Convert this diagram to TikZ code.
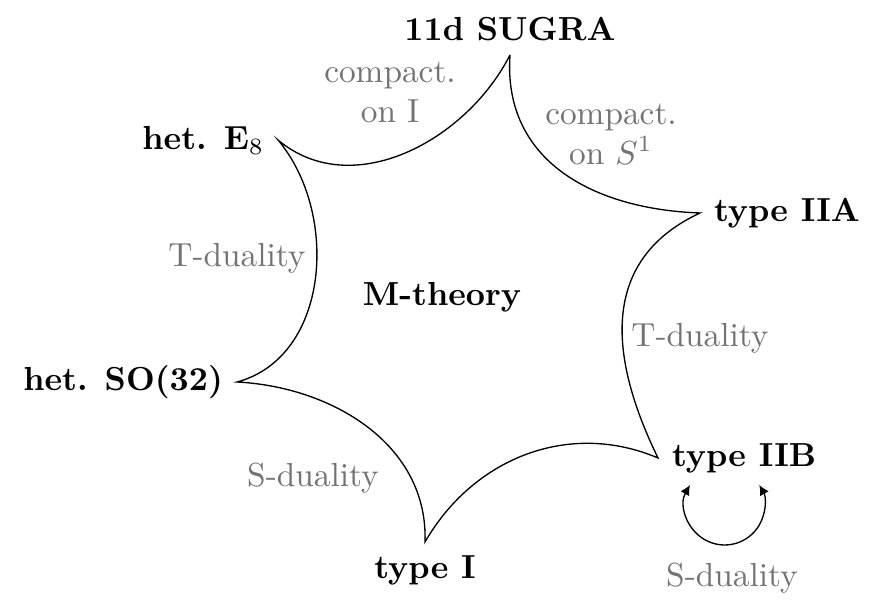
\documentclass[tikz,border=0pt]{standalone}
\usepackage{amsmath,amssymb}
\usetikzlibrary{positioning,calc,arrows.meta}
\tikzset{theory/.style={font=\bfseries,inner sep=4pt}  }
\tikzset{duality/.style={text=black!55,align=center}  }
\tikzset{>={Latex[length=3pt,width=3pt]}}

\begin{document}
\begin{tikzpicture}[x=0.3pt,y=0.3pt]
	\useasboundingbox (0,0) rectangle (877,604);
		\node[theory,anchor=south] (sugra) at (510,549) {11d SUGRA};
			\node[theory,anchor=west] (IIA) at (700,391) {type IIA};
			\node[theory,anchor=west] (IIB) at (658,146) {type IIB};
			\node[theory,anchor=north] (I) at (425,62) {type I};
			\node[theory,anchor=east] (so) at (237,222) {het. SO(32)};
			\node[theory,anchor=east] (e8) at (278,464) {het. E$_8$};
			\node[theory] (M) at (442,307) {M-theory};

			\draw[-]
				  (sugra.south) to[out=-94,in=178,looseness=1.1] (IIA.west)
				  to[out=205,in=116,looseness=1.15] (IIB.west)
				  to[out=157,in=60] (I.north)
				  to[out=88,in=-3] (so.east)
				  to[out=15,in=-50] (e8.east)
				  to[out=-40,in=-117] (sugra.south)
				;
				\node[duality] (cI) at (390,512) {compact.\\ on I};
				\node[duality] (cS) at (611,470) {compact.\\ on $S^1$};
				\node[duality] (tl) at (237,346) {T-duality};
				\node[duality] (tr) at (700,266) {T-duality};
				\node[duality] (sl) at (313,126) {S-duality};
				\node[duality] (sb) at (732,26) {S-duality};

				\coordinate (lp) at (690,119);
				\draw[<->] (lp) arc[start angle=150,end angle=390,radius=40];
	\end{tikzpicture}
\end{document}
